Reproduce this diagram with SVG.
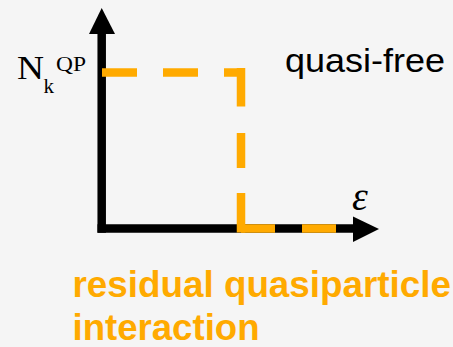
<svg xmlns="http://www.w3.org/2000/svg" width="453" height="347" viewBox="0 0 453 347">
<style>
.ax{stroke:#000;stroke-width:8.5;fill:none}
.ah{fill:#000}
.dl{stroke:#FFAA00;stroke-width:8.5;fill:none}
.ser{font-family:"Liberation Serif","Times New Roman",serif;fill:#000}
.sans{font-family:"Liberation Sans",Arial,sans-serif}
.lab{font-family:"Liberation Sans",Arial,sans-serif;font-weight:bold;fill:#FFAA00;font-size:36px}
</style>
<rect width="453" height="347" fill="#f5f5f5"/>
<g id="connectors">
<line class="ax" x1="101.7" y1="30" x2="101.7" y2="232.8"/>
<path class="ah" d="M101.7,8 L89,34 L115,34 Z"/>
<line class="ax" x1="97.5" y1="228.5" x2="356" y2="228.5"/>
<path class="ah" d="M379,229 L353,216.5 L353,242 Z"/>
<line class="dl" x1="102" y1="72.5" x2="245" y2="72.5" stroke-dasharray="35 26"/>
<line class="dl" x1="241" y1="68" x2="241" y2="232.5" stroke-dasharray="38.5 26.5 35 25 40"/>
<line class="dl" x1="241" y1="228.5" x2="336" y2="228.5" stroke-dasharray="34 27"/>
</g>
<g id="ylabel">
<text class="ser" x="17" y="79" font-size="33" textLength="27" lengthAdjust="spacingAndGlyphs">N</text>
<text class="ser" x="43.5" y="93" font-size="21">k</text>
<text class="ser" x="56" y="71" font-size="21" textLength="30" lengthAdjust="spacingAndGlyphs">QP</text>
</g>
<g id="xlabel">
<text class="ser" x="352" y="210" font-size="40" font-style="italic">ε</text>
</g>
<g id="quasi-free">
<text class="sans" x="285" y="71.5" font-size="34" fill="#000" textLength="160" lengthAdjust="spacingAndGlyphs">quasi-free</text>
</g>
<g id="residual">
<text class="lab" x="72.5" y="297" textLength="378.5" lengthAdjust="spacingAndGlyphs">residual quasiparticle</text>
<text class="lab" x="72.5" y="340" textLength="187" lengthAdjust="spacingAndGlyphs">interaction</text>
</g>
</svg>
